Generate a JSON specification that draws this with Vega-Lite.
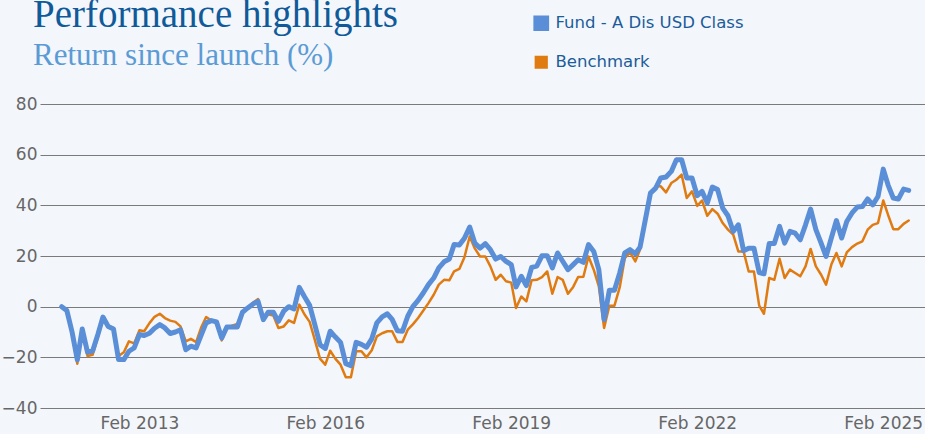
{
  "$schema": "https://vega.github.io/schema/vega-lite/v6.json",
  "width": 885,
  "height": 304,
  "autosize": {"type": "none"},
  "padding": {"left": 40, "top": 104, "right": 0, "bottom": 26},
  "background": "#f3f6fb",
  "title": {
    "text": "Performance highlights",
    "subtitle": "Return since launch (%)",
    "anchor": "start",
    "frame": "group",
    "font": "Liberation Serif",
    "fontSize": 39,
    "fontWeight": "normal",
    "color": "#105a9a",
    "subtitleFont": "Liberation Serif",
    "subtitleFontSize": 31,
    "subtitleColor": "#5b9bd5",
    "subtitlePadding": 6,
    "dx": -7,
    "offset": -56
  },
  "config": {"view": {"stroke": null}},
  "data": {
    "values": [
      {"date": "2011/11/01", "Fund - A Dis USD Class": 0, "Benchmark": 0},
      {"date": "2011/12/01", "Fund - A Dis USD Class": -1.5, "Benchmark": -1.5},
      {"date": "2012/01/01", "Fund - A Dis USD Class": -10, "Benchmark": -11},
      {"date": "2012/02/01", "Fund - A Dis USD Class": -21, "Benchmark": -22.5},
      {"date": "2012/03/01", "Fund - A Dis USD Class": -8.8, "Benchmark": -10},
      {"date": "2012/04/01", "Fund - A Dis USD Class": -18, "Benchmark": -19.5},
      {"date": "2012/05/01", "Fund - A Dis USD Class": -17.5, "Benchmark": -19},
      {"date": "2012/06/01", "Fund - A Dis USD Class": -11, "Benchmark": -12},
      {"date": "2012/07/01", "Fund - A Dis USD Class": -4.1, "Benchmark": -4.1},
      {"date": "2012/08/01", "Fund - A Dis USD Class": -7.8, "Benchmark": -7.5},
      {"date": "2012/09/01", "Fund - A Dis USD Class": -8.8, "Benchmark": -8.5},
      {"date": "2012/10/01", "Fund - A Dis USD Class": -20.9, "Benchmark": -19.5},
      {"date": "2012/11/01", "Fund - A Dis USD Class": -20.9, "Benchmark": -18},
      {"date": "2012/12/01", "Fund - A Dis USD Class": -17.6, "Benchmark": -13.7},
      {"date": "2013/01/01", "Fund - A Dis USD Class": -16.3, "Benchmark": -14.5},
      {"date": "2013/02/01", "Fund - A Dis USD Class": -11, "Benchmark": -9.3},
      {"date": "2013/03/01", "Fund - A Dis USD Class": -11.4, "Benchmark": -9.7},
      {"date": "2013/04/01", "Fund - A Dis USD Class": -10.5, "Benchmark": -6.5},
      {"date": "2013/05/01", "Fund - A Dis USD Class": -8.5, "Benchmark": -4},
      {"date": "2013/06/01", "Fund - A Dis USD Class": -7.1, "Benchmark": -2.8},
      {"date": "2013/07/01", "Fund - A Dis USD Class": -8.4, "Benchmark": -4.5},
      {"date": "2013/08/01", "Fund - A Dis USD Class": -10.6, "Benchmark": -5.5},
      {"date": "2013/09/01", "Fund - A Dis USD Class": -10, "Benchmark": -6},
      {"date": "2013/10/01", "Fund - A Dis USD Class": -9.1, "Benchmark": -7.8},
      {"date": "2013/11/01", "Fund - A Dis USD Class": -17, "Benchmark": -13.7},
      {"date": "2013/12/01", "Fund - A Dis USD Class": -15.6, "Benchmark": -12.7},
      {"date": "2014/01/01", "Fund - A Dis USD Class": -16.3, "Benchmark": -14},
      {"date": "2014/02/01", "Fund - A Dis USD Class": -11, "Benchmark": -8},
      {"date": "2014/03/01", "Fund - A Dis USD Class": -6.4, "Benchmark": -4.1},
      {"date": "2014/04/01", "Fund - A Dis USD Class": -5.5, "Benchmark": -5.5},
      {"date": "2014/05/01", "Fund - A Dis USD Class": -6, "Benchmark": -6.5},
      {"date": "2014/06/01", "Fund - A Dis USD Class": -12.4, "Benchmark": -13.3},
      {"date": "2014/07/01", "Fund - A Dis USD Class": -8, "Benchmark": -8.5},
      {"date": "2014/08/01", "Fund - A Dis USD Class": -8, "Benchmark": -7.5},
      {"date": "2014/09/01", "Fund - A Dis USD Class": -8, "Benchmark": -6.8},
      {"date": "2014/10/01", "Fund - A Dis USD Class": -2.2, "Benchmark": -2},
      {"date": "2014/11/01", "Fund - A Dis USD Class": -0.5, "Benchmark": -0.5},
      {"date": "2014/12/01", "Fund - A Dis USD Class": 1, "Benchmark": 1.5},
      {"date": "2015/01/01", "Fund - A Dis USD Class": 2.1, "Benchmark": 3},
      {"date": "2015/02/01", "Fund - A Dis USD Class": -5.1, "Benchmark": -4.5},
      {"date": "2015/03/01", "Fund - A Dis USD Class": -2.2, "Benchmark": -3},
      {"date": "2015/04/01", "Fund - A Dis USD Class": -2.2, "Benchmark": -3.5},
      {"date": "2015/05/01", "Fund - A Dis USD Class": -5.8, "Benchmark": -8.4},
      {"date": "2015/06/01", "Fund - A Dis USD Class": -1.8, "Benchmark": -7.8},
      {"date": "2015/07/01", "Fund - A Dis USD Class": 0, "Benchmark": -5.4},
      {"date": "2015/08/01", "Fund - A Dis USD Class": -0.9, "Benchmark": -6.4},
      {"date": "2015/09/01", "Fund - A Dis USD Class": 7.6, "Benchmark": 0.8},
      {"date": "2015/10/01", "Fund - A Dis USD Class": 4, "Benchmark": -3},
      {"date": "2015/11/01", "Fund - A Dis USD Class": 0.5, "Benchmark": -6},
      {"date": "2015/12/01", "Fund - A Dis USD Class": -7, "Benchmark": -13},
      {"date": "2016/01/01", "Fund - A Dis USD Class": -15, "Benchmark": -20.5},
      {"date": "2016/02/01", "Fund - A Dis USD Class": -16.5, "Benchmark": -22.9},
      {"date": "2016/03/01", "Fund - A Dis USD Class": -9.7, "Benchmark": -17.4},
      {"date": "2016/04/01", "Fund - A Dis USD Class": -12, "Benchmark": -20.6},
      {"date": "2016/05/01", "Fund - A Dis USD Class": -14.1, "Benchmark": -22.9},
      {"date": "2016/06/01", "Fund - A Dis USD Class": -22.5, "Benchmark": -27.9},
      {"date": "2016/07/01", "Fund - A Dis USD Class": -23.3, "Benchmark": -27.9},
      {"date": "2016/08/01", "Fund - A Dis USD Class": -14.1, "Benchmark": -17.6},
      {"date": "2016/09/01", "Fund - A Dis USD Class": -14.9, "Benchmark": -17.6},
      {"date": "2016/10/01", "Fund - A Dis USD Class": -16, "Benchmark": -20},
      {"date": "2016/11/01", "Fund - A Dis USD Class": -12.7, "Benchmark": -17.2},
      {"date": "2016/12/01", "Fund - A Dis USD Class": -6.4, "Benchmark": -11.7},
      {"date": "2017/01/01", "Fund - A Dis USD Class": -4, "Benchmark": -10.5},
      {"date": "2017/02/01", "Fund - A Dis USD Class": -2.8, "Benchmark": -9.7},
      {"date": "2017/03/01", "Fund - A Dis USD Class": -5, "Benchmark": -9.7},
      {"date": "2017/04/01", "Fund - A Dis USD Class": -9.5, "Benchmark": -13.9},
      {"date": "2017/05/01", "Fund - A Dis USD Class": -9.7, "Benchmark": -13.9},
      {"date": "2017/06/01", "Fund - A Dis USD Class": -3.8, "Benchmark": -9.1},
      {"date": "2017/07/01", "Fund - A Dis USD Class": 0, "Benchmark": -7},
      {"date": "2017/08/01", "Fund - A Dis USD Class": 2.5, "Benchmark": -4.5},
      {"date": "2017/09/01", "Fund - A Dis USD Class": 5.5, "Benchmark": -1.5},
      {"date": "2017/10/01", "Fund - A Dis USD Class": 8.7, "Benchmark": 1.4},
      {"date": "2017/11/01", "Fund - A Dis USD Class": 11.3, "Benchmark": 4.7},
      {"date": "2017/12/01", "Fund - A Dis USD Class": 15.3, "Benchmark": 8.7},
      {"date": "2018/01/01", "Fund - A Dis USD Class": 17.7, "Benchmark": 10.6},
      {"date": "2018/02/01", "Fund - A Dis USD Class": 18.8, "Benchmark": 10.4},
      {"date": "2018/03/01", "Fund - A Dis USD Class": 24.5, "Benchmark": 13.9},
      {"date": "2018/04/01", "Fund - A Dis USD Class": 24.3, "Benchmark": 14.9},
      {"date": "2018/05/01", "Fund - A Dis USD Class": 27, "Benchmark": 19.5},
      {"date": "2018/06/01", "Fund - A Dis USD Class": 31.4, "Benchmark": 27.7},
      {"date": "2018/07/01", "Fund - A Dis USD Class": 25.1, "Benchmark": 23},
      {"date": "2018/08/01", "Fund - A Dis USD Class": 23.1, "Benchmark": 19.8},
      {"date": "2018/09/01", "Fund - A Dis USD Class": 24.9, "Benchmark": 19.8},
      {"date": "2018/10/01", "Fund - A Dis USD Class": 22.5, "Benchmark": 15.9},
      {"date": "2018/11/01", "Fund - A Dis USD Class": 18.8, "Benchmark": 10.6},
      {"date": "2018/12/01", "Fund - A Dis USD Class": 19.8, "Benchmark": 12.6},
      {"date": "2019/01/01", "Fund - A Dis USD Class": 17.9, "Benchmark": 10},
      {"date": "2019/02/01", "Fund - A Dis USD Class": 16.6, "Benchmark": 9.5},
      {"date": "2019/03/01", "Fund - A Dis USD Class": 7.8, "Benchmark": -0.5},
      {"date": "2019/04/01", "Fund - A Dis USD Class": 12, "Benchmark": 4},
      {"date": "2019/05/01", "Fund - A Dis USD Class": 8.3, "Benchmark": 2.1},
      {"date": "2019/06/01", "Fund - A Dis USD Class": 15.5, "Benchmark": 10.4},
      {"date": "2019/07/01", "Fund - A Dis USD Class": 16, "Benchmark": 10.6},
      {"date": "2019/08/01", "Fund - A Dis USD Class": 20.1, "Benchmark": 11.7},
      {"date": "2019/09/01", "Fund - A Dis USD Class": 20.1, "Benchmark": 13.9},
      {"date": "2019/10/01", "Fund - A Dis USD Class": 15.3, "Benchmark": 5.1},
      {"date": "2019/11/01", "Fund - A Dis USD Class": 21.2, "Benchmark": 11.7},
      {"date": "2019/12/01", "Fund - A Dis USD Class": 17.9, "Benchmark": 10.6},
      {"date": "2020/01/01", "Fund - A Dis USD Class": 14.6, "Benchmark": 5.1},
      {"date": "2020/02/01", "Fund - A Dis USD Class": 16.6, "Benchmark": 7.8},
      {"date": "2020/03/01", "Fund - A Dis USD Class": 18.5, "Benchmark": 11.7},
      {"date": "2020/04/01", "Fund - A Dis USD Class": 17.5, "Benchmark": 11.8},
      {"date": "2020/05/01", "Fund - A Dis USD Class": 24.5, "Benchmark": 19.8},
      {"date": "2020/06/01", "Fund - A Dis USD Class": 21.8, "Benchmark": 14.6},
      {"date": "2020/07/01", "Fund - A Dis USD Class": 14.6, "Benchmark": 8},
      {"date": "2020/08/01", "Fund - A Dis USD Class": -5.1, "Benchmark": -8.4},
      {"date": "2020/09/01", "Fund - A Dis USD Class": 6.5, "Benchmark": 0.4},
      {"date": "2020/10/01", "Fund - A Dis USD Class": 6.5, "Benchmark": 0.4},
      {"date": "2020/11/01", "Fund - A Dis USD Class": 13.3, "Benchmark": 7.6},
      {"date": "2020/12/01", "Fund - A Dis USD Class": 21.2, "Benchmark": 19.2},
      {"date": "2021/01/01", "Fund - A Dis USD Class": 22.5, "Benchmark": 21.4},
      {"date": "2021/02/01", "Fund - A Dis USD Class": 20.9, "Benchmark": 17.9},
      {"date": "2021/03/01", "Fund - A Dis USD Class": 23.5, "Benchmark": 22.6},
      {"date": "2021/04/01", "Fund - A Dis USD Class": 34.3, "Benchmark": 34.3},
      {"date": "2021/05/01", "Fund - A Dis USD Class": 44.8, "Benchmark": 44},
      {"date": "2021/06/01", "Fund - A Dis USD Class": 46.8, "Benchmark": 47.5},
      {"date": "2021/07/01", "Fund - A Dis USD Class": 50.8, "Benchmark": 47.5},
      {"date": "2021/08/01", "Fund - A Dis USD Class": 51.2, "Benchmark": 45.1},
      {"date": "2021/09/01", "Fund - A Dis USD Class": 53.4, "Benchmark": 48.8},
      {"date": "2021/10/01", "Fund - A Dis USD Class": 58, "Benchmark": 50.1},
      {"date": "2021/11/01", "Fund - A Dis USD Class": 58, "Benchmark": 52.1},
      {"date": "2021/12/01", "Fund - A Dis USD Class": 50.8, "Benchmark": 42.9},
      {"date": "2022/01/01", "Fund - A Dis USD Class": 50.8, "Benchmark": 45.5},
      {"date": "2022/02/01", "Fund - A Dis USD Class": 43.8, "Benchmark": 39.8},
      {"date": "2022/03/01", "Fund - A Dis USD Class": 45.5, "Benchmark": 41.9},
      {"date": "2022/04/01", "Fund - A Dis USD Class": 40.9, "Benchmark": 35.9},
      {"date": "2022/05/01", "Fund - A Dis USD Class": 47.2, "Benchmark": 38.5},
      {"date": "2022/06/01", "Fund - A Dis USD Class": 46.2, "Benchmark": 36.7},
      {"date": "2022/07/01", "Fund - A Dis USD Class": 38.9, "Benchmark": 33},
      {"date": "2022/08/01", "Fund - A Dis USD Class": 35.9, "Benchmark": 30.4},
      {"date": "2022/09/01", "Fund - A Dis USD Class": 29.7, "Benchmark": 28.4},
      {"date": "2022/10/01", "Fund - A Dis USD Class": 32.3, "Benchmark": 21.8},
      {"date": "2022/11/01", "Fund - A Dis USD Class": 22.1, "Benchmark": 21.8},
      {"date": "2022/12/01", "Fund - A Dis USD Class": 23.1, "Benchmark": 13.9},
      {"date": "2023/01/01", "Fund - A Dis USD Class": 23.1, "Benchmark": 13.9},
      {"date": "2023/02/01", "Fund - A Dis USD Class": 13.5, "Benchmark": 0.4},
      {"date": "2023/03/01", "Fund - A Dis USD Class": 13, "Benchmark": -2.8},
      {"date": "2023/04/01", "Fund - A Dis USD Class": 24.9, "Benchmark": 11.3},
      {"date": "2023/05/01", "Fund - A Dis USD Class": 24.9, "Benchmark": 10.6},
      {"date": "2023/06/01", "Fund - A Dis USD Class": 31.7, "Benchmark": 18.9},
      {"date": "2023/07/01", "Fund - A Dis USD Class": 25.1, "Benchmark": 11.3},
      {"date": "2023/08/01", "Fund - A Dis USD Class": 29.7, "Benchmark": 14.6},
      {"date": "2023/09/01", "Fund - A Dis USD Class": 29, "Benchmark": 13.3},
      {"date": "2023/10/01", "Fund - A Dis USD Class": 26.4, "Benchmark": 12},
      {"date": "2023/11/01", "Fund - A Dis USD Class": 32.3, "Benchmark": 15.9},
      {"date": "2023/12/01", "Fund - A Dis USD Class": 38.5, "Benchmark": 22.8},
      {"date": "2024/01/01", "Fund - A Dis USD Class": 30.4, "Benchmark": 15.9},
      {"date": "2024/02/01", "Fund - A Dis USD Class": 25.1, "Benchmark": 12.6},
      {"date": "2024/03/01", "Fund - A Dis USD Class": 19.8, "Benchmark": 8.7},
      {"date": "2024/04/01", "Fund - A Dis USD Class": 27.1, "Benchmark": 16.6},
      {"date": "2024/05/01", "Fund - A Dis USD Class": 34, "Benchmark": 21.2},
      {"date": "2024/06/01", "Fund - A Dis USD Class": 27.1, "Benchmark": 15.9},
      {"date": "2024/07/01", "Fund - A Dis USD Class": 33.6, "Benchmark": 21.4},
      {"date": "2024/08/01", "Fund - A Dis USD Class": 37, "Benchmark": 23.5},
      {"date": "2024/09/01", "Fund - A Dis USD Class": 39.3, "Benchmark": 24.9},
      {"date": "2024/10/01", "Fund - A Dis USD Class": 39.5, "Benchmark": 25.8},
      {"date": "2024/11/01", "Fund - A Dis USD Class": 42.5, "Benchmark": 30.4},
      {"date": "2024/12/01", "Fund - A Dis USD Class": 40.2, "Benchmark": 32.3},
      {"date": "2025/01/01", "Fund - A Dis USD Class": 43.5, "Benchmark": 33},
      {"date": "2025/02/01", "Fund - A Dis USD Class": 54.3, "Benchmark": 41.9},
      {"date": "2025/03/01", "Fund - A Dis USD Class": 48.1, "Benchmark": 36.3},
      {"date": "2025/04/01", "Fund - A Dis USD Class": 42.9, "Benchmark": 30.6},
      {"date": "2025/05/01", "Fund - A Dis USD Class": 42.5, "Benchmark": 30.6},
      {"date": "2025/06/01", "Fund - A Dis USD Class": 46.4, "Benchmark": 32.7},
      {"date": "2025/07/01", "Fund - A Dis USD Class": 45.9, "Benchmark": 34}
    ]
  },
  "transform": [
    {"fold": ["Benchmark", "Fund - A Dis USD Class"], "as": ["series", "value"]}
  ],
  "mark": {"type": "line", "strokeJoin": "round", "strokeCap": "round"},
  "encoding": {
    "x": {
      "field": "date",
      "type": "temporal",
      "scale": {"domain": [{"year": 2011, "month": 6, "date": 26}, {"year": 2025, "month": 10, "date": 5}]},
      "axis": {
        "title": null,
        "values": [{"year": 2013, "month": 2, "date": 1}, {"year": 2016, "month": 2, "date": 1}, {"year": 2019, "month": 2, "date": 1}, {"year": 2022, "month": 2, "date": 1}, {"year": 2025, "month": 2, "date": 1}],
        "format": "%b %Y",
        "grid": false,
        "ticks": false,
        "domain": false,
        "labelFont": "DejaVu Sans",
        "labelFontSize": 17,
        "labelColor": "#666666",
        "labelPadding": 7,
        "labelFlush": false,
        "labelOverlap": false
      }
    },
    "y": {
      "field": "value",
      "type": "quantitative",
      "scale": {"domain": [-40, 80], "nice": false, "zero": false},
      "axis": {
        "title": null,
        "values": [-40, -20, 0, 20, 40, 60, 80],
        "grid": true,
        "gridColor": "#7a7a7a",
        "gridWidth": 1,
        "gridOpacity": 1,
        "ticks": false,
        "domain": false,
        "labelFont": "DejaVu Sans",
        "labelFontSize": 17,
        "labelColor": "#666666",
        "labelPadding": 3
      }
    },
    "color": {
      "field": "series",
      "type": "nominal",
      "scale": {"domain": ["Fund - A Dis USD Class", "Benchmark"], "range": ["#5a8ed6", "#e07b12"]},
      "legend": {
        "title": null,
        "orient": "none",
        "legendX": 493,
        "legendY": -89,
        "direction": "vertical",
        "symbolType": "square",
        "symbolSize": 115,
        "symbolStrokeWidth": 0,
        "labelFont": "DejaVu Sans",
        "labelFontSize": 16.5,
        "labelColor": "#1b5c99",
        "labelOffset": 6,
        "labelLimit": 400,
        "rowPadding": 12,
        "padding": 0,
        "encode": {"symbols": {"update": {"fill": {"scale": "color", "field": "value"}, "strokeWidth": {"value": 0}, "opacity": {"value": 1}}}}
      }
    },
    "strokeWidth": {
      "field": "series",
      "type": "nominal",
      "scale": {"domain": ["Fund - A Dis USD Class", "Benchmark"], "range": [5, 2.5]},
      "legend": null
    }
  }
}
